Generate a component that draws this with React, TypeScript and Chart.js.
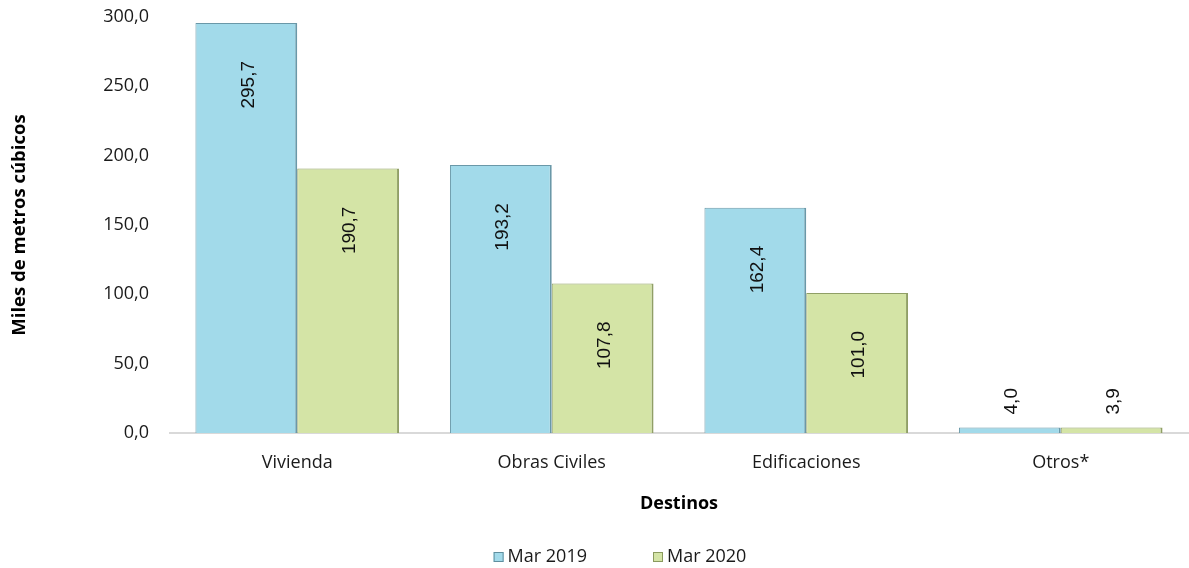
import React, { useEffect, useRef } from "react";
import { Chart, registerables } from "chart.js";

Chart.register(...registerables);

const categories = ["Vivienda", "Obras Civiles", "Edificaciones", "Otros*"];
const mar2019 = [295.7, 193.2, 162.4, 4.0];
const mar2020 = [190.7, 107.8, 101.0, 3.9];
const seriesLabels = ["Mar 2019", "Mar 2020"];
const yTicks = [0, 50, 100, 150, 200, 250, 300];

const fmt = (v: number) => v.toFixed(1).replace(".", ",");

const barLabels = {
  id: "barLabels",
  afterDatasetsDraw(chart: any) {
    const ctx = chart.ctx;
    ctx.save();
    ctx.font = '19px "Liberation Sans", Arial, sans-serif';
    ctx.fillStyle = "#111111";
    ctx.textBaseline = "middle";
    chart.data.datasets.forEach((ds: any, di: number) => {
      const meta = chart.getDatasetMeta(di);
      meta.data.forEach((bar: any, i: number) => {
        const v = ds.data[i];
        const h = bar.base - bar.y;
        ctx.save();
        if (h > 80) {
          ctx.translate(bar.x + 2, bar.y + 38);
          ctx.rotate(-Math.PI / 2);
          ctx.textAlign = "right";
        } else {
          ctx.translate(bar.x + 2, bar.y - 13);
          ctx.rotate(-Math.PI / 2);
          ctx.textAlign = "left";
        }
        ctx.fillText(fmt(v), 0, 0);
        ctx.restore();
      });
    });
    ctx.restore();
  },
};

const customLegend = {
  id: "customLegend",
  afterDraw(chart: any) {
    const ctx = chart.ctx;
    ctx.save();
    ctx.font = '18px "Open Sans", sans-serif';
    ctx.textBaseline = "middle";
    const box = 10;
    const gapText = 4;
    const gapItems = 66;
    const items = chart.data.datasets.map((ds: any) => ({
      text: ds.label,
      fill: ds.backgroundColor,
      stroke: ds.legendBorder,
      w: box + gapText + ctx.measureText(ds.label).width,
    }));
    const total = items.reduce((s: number, it: any) => s + it.w, 0) + gapItems * (items.length - 1);
    let x = 620 - total / 2;
    const y = 557;
    items.forEach((it: any) => {
      ctx.fillStyle = it.fill;
      ctx.fillRect(x, y - box / 2, box, box);
      ctx.strokeStyle = it.stroke;
      ctx.lineWidth = 1;
      ctx.strokeRect(x + 0.5, y - box / 2 + 0.5, box - 1, box - 1);
      ctx.fillStyle = "#1a1a1a";
      ctx.textAlign = "left";
      ctx.fillText(it.text, x + box + gapText, y);
      x += it.w + gapItems;
    });
    ctx.restore();
  },
};

export default function App() {
  const ref = useRef<HTMLCanvasElement | null>(null);
  useEffect(() => {
    if (!ref.current) return;
    const chart = new Chart(ref.current, {
      type: "bar",
      data: {
        labels: categories,
        datasets: [
          {
            label: seriesLabels[0],
            data: mar2019,
            backgroundColor: "#A2DAEA",
            borderColor: "#6A98A8",
            borderWidth: { left: 1, top: 1, right: 2, bottom: 0 },
            borderSkipped: "bottom",
            legendBorder: "#5F8E9E",
            categoryPercentage: 0.8,
            barPercentage: 1.0,
          } as any,
          {
            label: seriesLabels[1],
            data: mar2020,
            backgroundColor: "#D4E4A6",
            borderColor: "#909F66",
            borderWidth: { left: 1, top: 1, right: 2, bottom: 0 },
            borderSkipped: "bottom",
            legendBorder: "#8A9A5E",
            categoryPercentage: 0.8,
            barPercentage: 1.0,
          } as any,
        ],
      },
      options: {
        responsive: false,
        animation: false,
        layout: { padding: { top: 17, right: 1, bottom: 45, left: 0 } },
        plugins: {
          legend: { display: false },
          tooltip: { enabled: false },
        },
        scales: {
          x: {
            grid: { display: false, drawTicks: false },
            border: { display: true, color: "#D9D9D9", width: 2 },
            ticks: {
              padding: 19,
              color: "#1a1a1a",
              font: { family: '"Open Sans", sans-serif', size: 18 },
            },
            title: {
              display: true,
              text: "Destinos",
              color: "#000000",
              font: { family: '"Open Sans", sans-serif', size: 18, weight: "bold" },
              padding: { top: 0, bottom: 8 },
            },
            afterFit(s: any) {
              s.height = 90;
            },
          },
          y: {
            min: 0,
            max: 300,
            grid: { display: false, drawTicks: false },
            border: { display: false },
            afterBuildTicks(s: any) {
              s.ticks = yTicks.map((v) => ({ value: v }));
            },
            ticks: {
              padding: 21,
              color: "#1a1a1a",
              font: { family: '"Open Sans", sans-serif', size: 18 },
              callback: (v: any) => fmt(Number(v)),
            },
            title: {
              display: true,
              text: "Miles de metros cúbicos",
              color: "#000000",
              font: { family: '"Open Sans", sans-serif', size: 18.5, weight: "bold" },
              padding: { top: 9, bottom: 0 },
            },
            afterFit(s: any) {
              s.width = 170;
              s.paddingTop = 0;
              s.paddingBottom = 0;
            },
          },
        },
      },
      plugins: [barLabels, customLegend],
    });
    return () => chart.destroy();
  }, []);
  return (
    <div style={{ position: "absolute", left: 0, top: 0, width: 1189, height: 568, background: "#fff" }}>
      <canvas ref={ref} width={1189} height={568} />
    </div>
  );
}
